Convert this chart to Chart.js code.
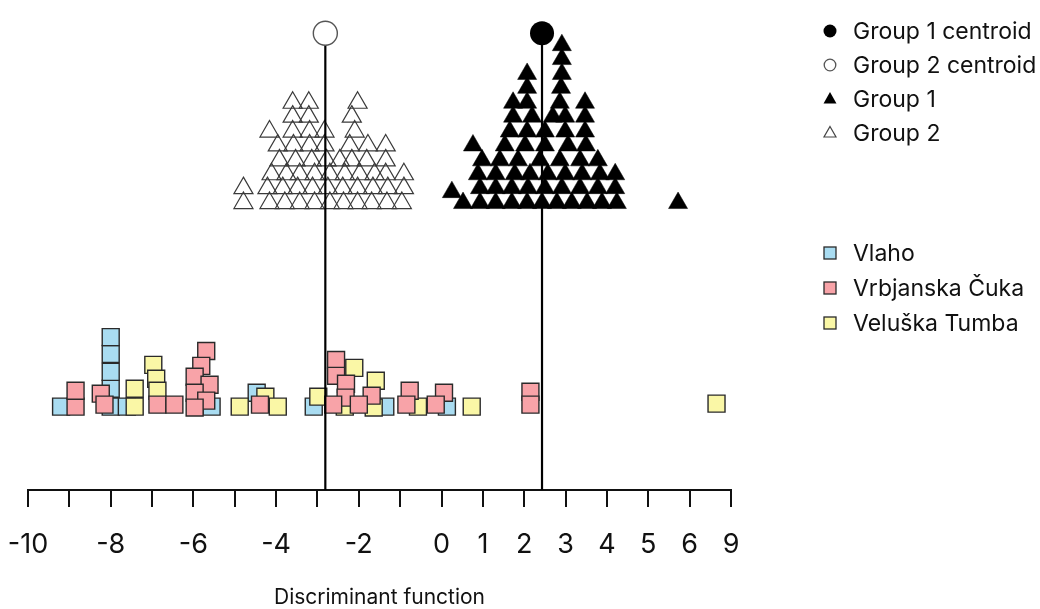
<!DOCTYPE html>
<html>
<head>
<meta charset="utf-8">
<script src="https://cdn.jsdelivr.net/npm/chart.js@4/dist/chart.umd.min.js"></script>
<style>
  html, body { margin: 0; padding: 0; background: #ffffff; }
  #wrap { position: relative; width: 1040px; height: 609px; }
  canvas { position: absolute; left: 0; top: 0; }
  .lg { position: absolute; left: 853px; height: 26px; line-height: 26px;
        font-family: Inter, "Noto Sans", sans-serif; font-size: 23px; color: #111; white-space: nowrap; }
  .mk { position: absolute; width: 16px; height: 16px; }
</style>
</head>
<body>
<div id="wrap">
  <canvas id="chart" width="1040" height="609"></canvas>

  <svg class="mk" style="left:822px;top:23px" viewBox="0 0 16 16"><circle cx="8" cy="8" r="6.5" fill="#000"/></svg>
  <div class="lg" style="top:18px">Group 1 centroid</div>

  <svg class="mk" style="left:822px;top:57px" viewBox="0 0 16 16"><circle cx="8" cy="8" r="5.8" fill="#fff" stroke="#555" stroke-width="1.3"/></svg>
  <div class="lg" style="top:52px">Group 2 centroid</div>

  <svg class="mk" style="left:822px;top:90px" viewBox="0 0 16 16"><polygon points="8,2 14.5,13.5 1.5,13.5" fill="#000"/></svg>
  <div class="lg" style="top:86px">Group 1</div>

  <svg class="mk" style="left:822px;top:124px" viewBox="0 0 16 16"><polygon points="8,2.5 14,13 2,13" fill="none" stroke="#444" stroke-width="1.2"/></svg>
  <div class="lg" style="top:120px">Group 2</div>

  <svg class="mk" style="left:822px;top:245px" viewBox="0 0 16 16"><rect x="2" y="2" width="12" height="12" fill="#a9dcf1" stroke="#2a2a2a" stroke-width="1.3"/></svg>
  <div class="lg" style="top:240px">Vlaho</div>

  <svg class="mk" style="left:822px;top:280px" viewBox="0 0 16 16"><rect x="2" y="2" width="12" height="12" fill="#f8a3a8" stroke="#2a2a2a" stroke-width="1.3"/></svg>
  <div class="lg" style="top:275px">Vrbjanska Čuka</div>

  <svg class="mk" style="left:822px;top:315px" viewBox="0 0 16 16"><rect x="2" y="2" width="12" height="12" fill="#faf7a6" stroke="#2a2a2a" stroke-width="1.3"/></svg>
  <div class="lg" style="top:310px">Veluška Tumba</div>
</div>

<script>
// Discriminant scores (x) and stacking height (y) of each specimen.
const group1X = [
  0.52, 0.93, 1.31, 1.70, 2.07, 2.43, 2.79, 3.15, 3.52, 3.88, 4.24, 5.72,
  0.25, 0.93, 1.31, 1.70, 2.09, 2.50, 2.91, 3.35, 3.78, 4.20,
  0.88, 1.31, 1.77, 2.14, 2.57, 2.99, 3.40, 3.83, 4.20,
  0.98, 1.41, 1.85, 2.38, 2.86, 3.35, 3.78,
  0.76, 1.53, 2.02, 2.50, 3.06, 3.49,
  1.65, 2.07, 2.50, 2.99, 3.47,
  1.73, 2.19, 2.69, 2.99, 3.47,
  1.73, 2.07, 2.86, 3.47,
  2.07, 2.89,
  2.07, 2.91,
  2.91,
  2.91
];
const group1Y = [
  28.9, 28.9, 28.9, 28.9, 28.9, 28.9, 28.9, 28.9, 28.9, 28.9, 28.9, 28.9,
  30.0, 30.4, 30.4, 30.4, 30.4, 30.4, 30.4, 30.4, 30.4, 30.4,
  31.8, 31.8, 31.8, 31.8, 31.8, 31.8, 31.8, 31.8, 31.8,
  33.2, 33.2, 33.2, 33.2, 33.2, 33.2, 33.2,
  34.7, 34.7, 34.7, 34.7, 34.7, 34.7,
  36.1, 36.1, 36.1, 36.1, 36.1,
  37.6, 37.6, 37.6, 37.6, 37.6,
  39.0, 39.0, 39.0, 39.0,
  40.5, 40.5,
  41.9, 41.9,
  43.4,
  44.8
];

const group2X = [
  -4.79, -4.16, -3.79, -3.43, -3.07, -2.70, -2.37, -2.03, -1.69, -1.32, -0.96,
  -4.79, -4.21, -3.84, -3.48, -3.12, -2.75, -2.39, -2.03, -1.66, -1.30, -0.91,
  -4.11, -3.75, -3.43, -3.07, -2.70, -2.34, -1.98, -1.62, -1.35, -0.91,
  -3.92, -3.53, -3.14, -2.78, -2.46, -2.17, -1.81, -1.35,
  -3.96, -3.58, -3.19, -2.83, -2.22, -1.78, -1.35,
  -4.16, -3.60, -3.19, -2.83, -2.10,
  -3.60, -3.21, -2.17,
  -3.60, -3.21, -2.03
];
const group2Y = [
  28.9, 28.9, 28.9, 28.9, 28.9, 28.9, 28.9, 28.9, 28.9, 28.9, 28.9,
  30.4, 30.4, 30.4, 30.4, 30.4, 30.4, 30.4, 30.4, 30.4, 30.4, 30.4,
  31.8, 31.8, 31.8, 31.8, 31.8, 31.8, 31.8, 31.8, 31.8, 31.8,
  33.2, 33.2, 33.2, 33.2, 33.2, 33.2, 33.2, 33.2,
  34.7, 34.7, 34.7, 34.7, 34.7, 34.7, 34.7,
  36.1, 36.1, 36.1, 36.1, 36.1,
  37.6, 37.6, 37.6,
  39.0, 39.0, 39.0
];

const centroidX = [2.43, -2.81];   // Group 1, Group 2
const centroidY = [46.0, 46.0];

const vlahoX = [-9.20, -8.00, -8.00, -8.00, -8.00, -8.00, -7.61, -5.56, -4.47, -3.09, -1.36, 0.13];
const vlahoY = [8.4, 8.4, 10.2, 11.9, 13.7, 15.4, 8.4, 8.4, 9.8, 8.4, 8.4, 8.4];

const vrbjanskaX = [-8.85, -8.85, -8.24, -8.15, -6.87, -6.46, -5.69, -5.81, -5.97, -5.61, -5.97, -5.69, -5.97,
  -4.39, -2.55, -2.55, -2.31, -2.32, -1.69, -2.62, -2.00, -0.77, -0.85, 0.06, -0.14, 2.15, 2.15];
const vrbjanskaY = [8.4, 10.0, 9.7, 8.6, 8.6, 8.6, 14.0, 12.5, 11.4, 10.6, 9.8, 9.0, 8.3,
  8.6, 13.1, 11.5, 10.7, 9.3, 9.5, 8.6, 8.6, 10.0, 8.6, 9.8, 8.6, 9.9, 8.6];

const veluskaX = [-7.42, -7.42, -6.97, -6.90, -6.87, -4.88, -4.26, -3.96, -2.98, -2.11, -1.59, -2.34, -1.64, -0.57, 0.73, 6.65];
const veluskaY = [10.2, 8.4, 12.6, 11.2, 10.0, 8.4, 9.4, 8.4, 9.4, 12.3, 11.0, 8.4, 8.3, 8.4, 8.4, 8.7];

const tickValues = [-10, -9, -8, -7, -6, -5, -4, -3, -2, -1, 0, 1, 2, 3, 4, 5, 6, 7];
const tickLabels = ['-10', '', '-8', '', '-6', '', '-4', '', '-2', '', '0', '1', '2', '3', '4', '5', '6', '9'];

const pts = (xs, ys) => xs.map((x, i) => ({ x, y: ys[i] }));

const ink = '#111111';
const squareStyle = (fill, order) => ({
  pointStyle: 'rect', pointRadius: 12, pointBorderWidth: 1.4,
  borderColor: '#2a2a2a', backgroundColor: fill, order, clip: false
});

new Chart(document.getElementById('chart'), {
  type: 'scatter',
  data: {
    datasets: [
      { label: 'Group 1 centroid', data: [{ x: centroidX[0], y: centroidY[0] }],
        pointStyle: 'circle', pointRadius: 12, backgroundColor: '#000', borderColor: '#000', borderWidth: 0, order: 1, clip: false },
      { label: 'Group 2 centroid', data: [{ x: centroidX[1], y: centroidY[1] }],
        pointStyle: 'circle', pointRadius: 12, backgroundColor: '#fff', borderColor: '#555', borderWidth: 1.4, order: 2, clip: false },
      { label: 'Group 1 axis', data: [{ x: centroidX[0], y: 0 }, { x: centroidX[0], y: centroidY[0] }],
        showLine: true, borderColor: '#000', borderWidth: 2.2, pointRadius: 0, order: 3, clip: false },
      { label: 'Group 2 axis', data: [{ x: centroidX[1], y: 0 }, { x: centroidX[1], y: centroidY[1] }],
        showLine: true, borderColor: '#000', borderWidth: 2.2, pointRadius: 0, order: 4, clip: false },
      { label: 'Group 1', data: pts(group1X, group1Y),
        pointStyle: 'triangle', pointRadius: 11, backgroundColor: '#000', borderColor: '#000', borderWidth: 0.5, order: 5, clip: false },
      { label: 'Group 2', data: pts(group2X, group2Y),
        pointStyle: 'triangle', pointRadius: 11, backgroundColor: 'rgba(255,255,255,0)', borderColor: '#3a3a3a', borderWidth: 1.2, order: 6, clip: false },
      Object.assign({ label: 'Vrbjanska Čuka', data: pts(vrbjanskaX, vrbjanskaY) }, squareStyle('#f8a3a8', 7)),
      Object.assign({ label: 'Veluška Tumba', data: pts(veluskaX, veluskaY) }, squareStyle('#faf7a6', 8)),
      Object.assign({ label: 'Vlaho', data: pts(vlahoX, vlahoY) }, squareStyle('#a9dcf1', 9))
    ]
  },
  options: {
    responsive: false,
    animation: false,
    events: [],
    layout: { padding: { left: 28, right: 309, top: 10, bottom: 0 } },
    plugins: { legend: { display: false }, tooltip: { enabled: false } },
    scales: {
      x: {
        type: 'linear', min: -10, max: 7,
        afterBuildTicks: (scale) => { scale.ticks = tickValues.map(v => ({ value: v })); },
        afterFit: (scale) => { scale.paddingLeft = 0; scale.paddingRight = 0; },
        border: { display: true, color: ink, width: 2 },
        grid: { display: true, drawOnChartArea: false, drawTicks: true, tickLength: 17, color: ink, lineWidth: 2 },
        ticks: {
          autoSkip: false, maxRotation: 0, padding: 21.5, color: ink,
          font: { family: 'Inter', size: 27 },
          callback: (value, index) => tickLabels[index]
        },
        title: { display: true, text: 'Discriminant function', color: ink,
                 font: { family: 'Inter', size: 21 }, padding: { top: 3, bottom: -1.6 } }
      },
      y: { type: 'linear', min: 0, max: 48, display: false }
    }
  }
});
</script>
</body>
</html>
